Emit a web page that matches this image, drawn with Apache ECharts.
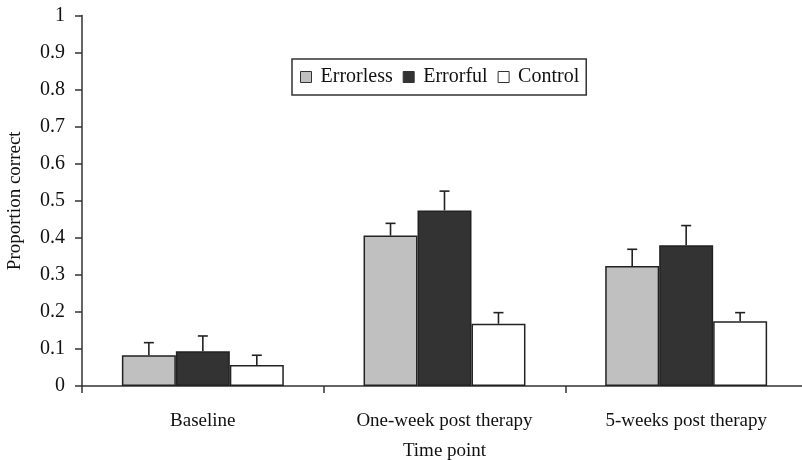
<!DOCTYPE html>
<html><head><meta charset="utf-8">
<script src="https://cdn.jsdelivr.net/npm/echarts@6/dist/echarts.min.js"></script>
<style>html,body{margin:0;padding:0;background:#fff}#c{width:802px;height:460px}</style>
</head><body><div id="c"></div>
<script>
var categories = ['Baseline', 'One-week post therapy', '5-weeks post therapy'];
var seriesNames = ['Errorless', 'Errorful', 'Control'];
var errorless = [0.083, 0.406, 0.324];
var errorful = [0.094, 0.474, 0.380];
var control = [0.057, 0.168, 0.175];
var errorlessErr = [0.034, 0.033, 0.045];
var errorfulErr = [0.041, 0.052, 0.053];
var controlErr = [0.026, 0.030, 0.023];
var yTicks = [0, 0.1, 0.2, 0.3, 0.4, 0.5, 0.6, 0.7, 0.8, 0.9, 1];

var font = 'Liberation Serif';
var values = [errorless, errorful, control];
var errs = [errorlessErr, errorfulErr, controlErr];
var colors = ['#c0c0c0', '#333333', '#ffffff'];
var catGap = 0.33;

function errSeries(idx) {
  var data = categories.map(function (c, i) { return [i, values[idx][i], errs[idx][i]]; });
  return {
    type: 'custom', z: 5, silent: true,
    data: data,
    renderItem: function (params, api) {
      var ci = api.value(0), v = api.value(1), e = api.value(2);
      var bw = api.size([1, 0])[0];
      var barW = bw * (1 - catGap) / 3;
      var off = (idx - 1) * barW;
      var p0 = api.coord([ci, v]);
      var p1 = api.coord([ci, v + e]);
      var x = p0[0] + off;
      var style = { stroke: '#222', lineWidth: 1.6 };
      return {
        type: 'group',
        children: [
          { type: 'line', shape: { x1: x, y1: p0[1], x2: x, y2: p1[1] }, style: style },
          { type: 'line', shape: { x1: x - 5, y1: p1[1], x2: x + 5, y2: p1[1] }, style: style }
        ]
      };
    }
  };
}

var series = [];
seriesNames.forEach(function (n, i) {
  series.push({
    name: n, type: 'bar', data: values[i], barGap: '0%', barCategoryGap: (catGap * 100) + '%',
    itemStyle: { color: colors[i], borderColor: '#222', borderWidth: 1.5 }
  });
});
seriesNames.forEach(function (n, i) { series.push(errSeries(i)); });

var chart = echarts.init(document.getElementById('c'), null, { renderer: 'canvas' });
chart.setOption({
  animation: false,
  backgroundColor: '#fff',
  grid: { left: 82, top: 15.5, width: 725, bottom: 74, containLabel: false, outerBoundsMode: 'none' },
  legend: {
    data: seriesNames.map(function (n, i) { return { name: n, itemStyle: { color: colors[i], borderColor: '#333', borderWidth: 1 } }; }),
    left: 292, top: 59, padding: [8, 7, 8, 8], itemGap: 10,
    itemWidth: 11, itemHeight: 11, icon: 'rect',
    borderColor: '#333', borderWidth: 1.5,
    textStyle: { fontFamily: font, fontSize: 20, color: '#111', padding: [0, 0, 0, 4] }
  },
  xAxis: {
    type: 'category', data: categories, boundaryGap: true,
    name: 'Time point', nameLocation: 'middle', nameGap: 56,
    nameTextStyle: { fontFamily: font, fontSize: 19, color: '#111' },
    axisLine: { lineStyle: { color: '#333', width: 1.5 } },
    axisTick: { show: true, length: 7, lineStyle: { color: '#333', width: 1.5 } },
    axisLabel: { fontFamily: font, fontSize: 19, color: '#111', margin: 26, interval: 0 }
  },
  yAxis: {
    type: 'value', min: 0, max: 1, interval: 0.1,
    name: 'Proportion correct', nameLocation: 'middle', nameGap: 57, nameRotate: 90,
    nameTextStyle: { fontFamily: font, fontSize: 19, color: '#111' },
    splitLine: { show: false },
    axisLine: { show: true, lineStyle: { color: '#333', width: 1.5 } },
    axisTick: { show: true, length: 7, lineStyle: { color: '#333', width: 1.5 } },
    axisLabel: { fontFamily: font, fontSize: 20, color: '#111', margin: 17,
      formatter: function (v) { var t = yTicks.filter(function (x) { return Math.abs(x - v) < 1e-9; }); return t.length ? String(t[0]) : ''; } }
  },
  series: series
});
</script></body></html>
